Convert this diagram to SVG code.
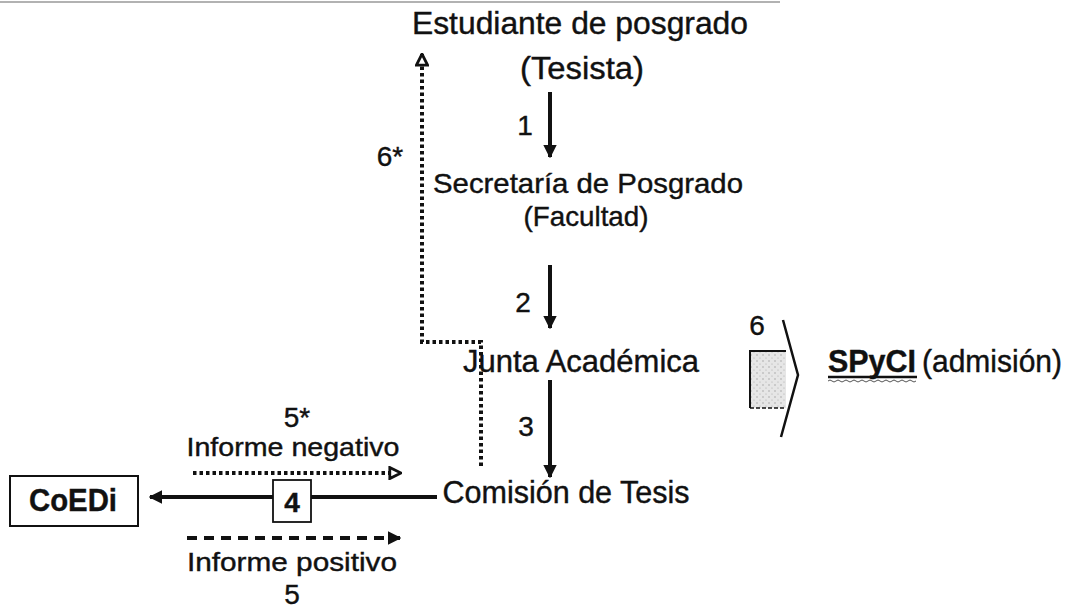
<svg xmlns="http://www.w3.org/2000/svg" width="1070" height="609" viewBox="0 0 1070 609">
<defs>
<marker id="ah" viewBox="0 0 10 10" refX="9" refY="5" markerWidth="3.4" markerHeight="3.4" orient="auto" markerUnits="strokeWidth">
<path d="M0,0 L10,5 L0,10 Z" fill="#111"/>
</marker>
<marker id="aho" viewBox="0 0 10 10" refX="9" refY="5" markerWidth="3.5" markerHeight="3.5" orient="auto" markerUnits="strokeWidth">
<path d="M1,1 L9,5 L1,9 Z" fill="#fff" stroke="#111" stroke-width="2"/>
</marker>
<pattern id="stip" width="6" height="6" patternUnits="userSpaceOnUse">
<rect width="6" height="6" fill="#e6e6e6"/>
<circle cx="1" cy="1" r="0.7" fill="#999"/>
<circle cx="4" cy="4" r="0.6" fill="#aaa"/>
</pattern>
</defs>
<style>
text{font-family:"Liberation Sans",Arial,sans-serif;fill:#111;stroke:#111;stroke-width:0.4}
.big{font-size:31px}
.mid{font-size:28px}
.sm{font-size:26px}
.num{font-size:28px}
.b{font-weight:bold}
.solid{stroke:#111;stroke-width:4;fill:none}
.dot{stroke:#111;stroke-width:4;fill:none;stroke-dasharray:3.5 3}
.dash{stroke:#111;stroke-width:4;fill:none;stroke-dasharray:10 7}
</style>
<rect width="1070" height="609" fill="#fff"/>
<line x1="0" y1="2" x2="780" y2="2" stroke="#999" stroke-width="1.5"/>

<g id="connectors">
<line class="solid" x1="550" y1="92" x2="550" y2="157" marker-end="url(#ah)"/>
<line class="solid" x1="550" y1="265" x2="550" y2="328" marker-end="url(#ah)"/>
<line class="solid" x1="550" y1="380" x2="550" y2="477" marker-end="url(#ah)"/>
<polyline class="dot" points="481,466 481,342 422,342 422,54" marker-end="url(#aho)"/>
<line class="solid" x1="437" y1="497" x2="150" y2="497" marker-end="url(#ah)"/>
<line class="dot" x1="193" y1="473" x2="401" y2="473" marker-end="url(#aho)"/>
<line class="dash" x1="187" y1="538" x2="400" y2="538" marker-end="url(#ah)"/>
<g id="arrow6">
<rect x="750" y="351" width="36" height="57" fill="url(#stip)"/>
<path d="M750,408 L750,351 L786,351" fill="none" stroke="#111" stroke-width="2"/>
<line x1="750" y1="408" x2="786" y2="408" stroke="#111" stroke-width="1.5" stroke-dasharray="4 2"/>
<polyline points="783,320 798,375 781,437" fill="none" stroke="#111" stroke-width="2.5"/>
</g>
</g>

<g id="n-estudiante">
<text class="big" x="580" y="34" text-anchor="middle" textLength="336" lengthAdjust="spacingAndGlyphs">Estudiante de posgrado</text>
<text class="big" x="582" y="79" text-anchor="middle" textLength="124" lengthAdjust="spacingAndGlyphs">(Tesista)</text>
</g>
<g id="n-secretaria">
<text class="mid" x="588" y="193" text-anchor="middle" textLength="310" lengthAdjust="spacingAndGlyphs">Secretaría de Posgrado</text>
<text class="mid" x="586" y="226" text-anchor="middle" textLength="125" lengthAdjust="spacingAndGlyphs">(Facultad)</text>
</g>
<g id="n-junta">
<text class="big" x="581" y="372" text-anchor="middle" textLength="236" lengthAdjust="spacingAndGlyphs">Junta Académica</text>
</g>
<g id="n-comision">
<text class="big" x="566" y="503" text-anchor="middle" textLength="247" lengthAdjust="spacingAndGlyphs">Comisión de Tesis</text>
</g>
<g id="n-coedi">
<rect x="10" y="476" width="128" height="50" fill="#fff" stroke="#111" stroke-width="2"/>
<text class="big b" x="73" y="511" text-anchor="middle" textLength="88" lengthAdjust="spacingAndGlyphs">CoEDi</text>
</g>
<g id="n-spyci">
<text class="big b" x="828" y="372" textLength="88" lengthAdjust="spacingAndGlyphs">SPyCI</text>
<line x1="828" y1="377" x2="917" y2="377" stroke="#111" stroke-width="2.5"/>
<path d="M828,381 q2,-2 4,0 t4,0 t4,0 t4,0 t4,0 t4,0 t4,0 t4,0 t4,0 t4,0 t4,0 t4,0 t4,0 t4,0 t4,0 t4,0 t4,0 t4,0 t4,0 t4,0 t4,0 t4,0" fill="none" stroke="#555" stroke-width="1"/>
<text class="big" x="922" y="372" textLength="140" lengthAdjust="spacingAndGlyphs">(admisión)</text>
</g>
<g id="labels">
<text class="num" x="525" y="135" text-anchor="middle">1</text>
<text class="num" x="523" y="312" text-anchor="middle">2</text>
<text class="num" x="526" y="436" text-anchor="middle">3</text>
<text class="num" x="390" y="166" text-anchor="middle">6*</text>
<text class="num" x="757" y="335" text-anchor="middle">6</text>
<text class="num" x="297" y="427" text-anchor="middle">5*</text>
<text class="sm" x="293" y="456" text-anchor="middle" textLength="213" lengthAdjust="spacingAndGlyphs">Informe negativo</text>
<text class="sm" x="292" y="571" text-anchor="middle" textLength="210" lengthAdjust="spacingAndGlyphs">Informe positivo</text>
<text class="num" x="292" y="604" text-anchor="middle">5</text>
</g>
<g id="n-4">
<rect x="273" y="480" width="38" height="42" fill="#fff" stroke="#111" stroke-width="1.8"/>
<text class="num b" x="292" y="512" text-anchor="middle">4</text>
</g>
</svg>
